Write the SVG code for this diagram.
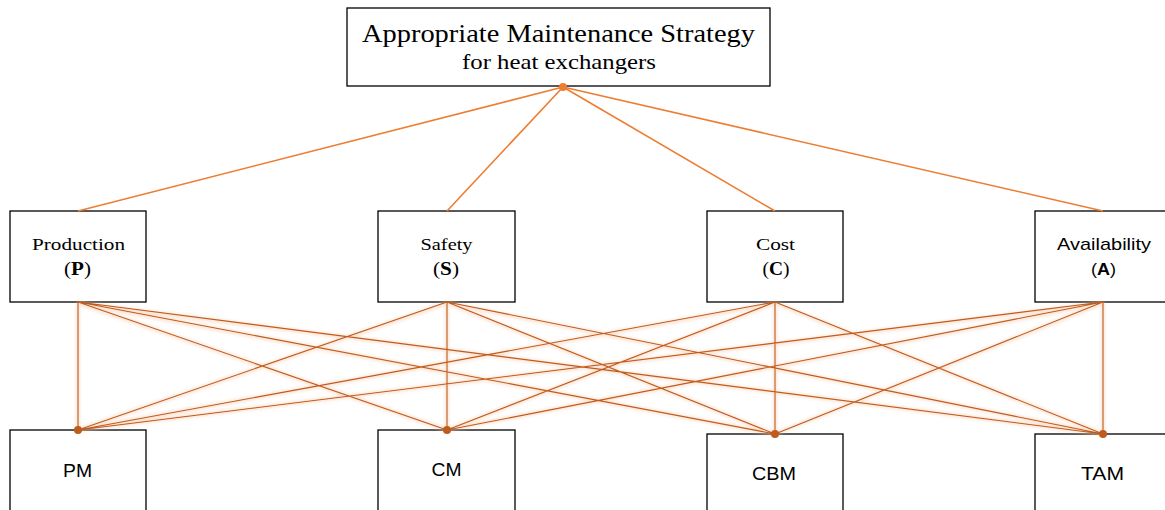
<svg xmlns="http://www.w3.org/2000/svg" width="1165" height="510" viewBox="0 0 1165 510">
<defs>
<style>
.box{fill:#fff;stroke:#000;stroke-width:1.3}
.serif{font-family:"Liberation Serif","Times New Roman",serif;fill:#000;text-anchor:middle}
.sans{font-family:"Liberation Sans",Arial,sans-serif;fill:#000;text-anchor:middle}
.top{stroke:#ED7D31;stroke-width:1.6;fill:none}
.low{stroke:#BF5B1C;stroke-width:1.1;fill:none}
.glow{stroke:#F8CBAD;stroke-width:4;fill:none;opacity:0.5}
.dot{fill:#BF5B1C}
</style>
<filter id="blur" x="-5%" y="-5%" width="110%" height="110%"><feGaussianBlur stdDeviation="1.5"/></filter>
</defs>
<rect width="1165" height="510" fill="#fff"/>
<g id="goal">
<rect class="box" x="347" y="8" width="423" height="78"/>
<text class="serif" x="558.5" y="42" font-size="26" textLength="393" lengthAdjust="spacingAndGlyphs">Appropriate Maintenance Strategy</text>
<text class="serif" x="559" y="69" font-size="21" textLength="194" lengthAdjust="spacingAndGlyphs">for heat exchangers</text>
</g>
<g id="production">
<rect class="box" x="10" y="211" width="136" height="91"/>
<text class="serif" x="78.5" y="250" font-size="17" textLength="93" lengthAdjust="spacingAndGlyphs">Production</text>
<text class="serif" x="77.5" y="275" font-size="18" textLength="27" lengthAdjust="spacingAndGlyphs">(<tspan font-weight="bold">P</tspan>)</text>
</g>
<g id="safety">
<rect class="box" x="378" y="211" width="137" height="91"/>
<text class="serif" x="446.5" y="250" font-size="17" textLength="52" lengthAdjust="spacingAndGlyphs">Safety</text>
<text class="serif" x="446" y="275" font-size="18" textLength="26" lengthAdjust="spacingAndGlyphs">(<tspan font-weight="bold">S</tspan>)</text>
</g>
<g id="cost">
<rect class="box" x="707" y="211" width="136" height="91"/>
<text class="serif" x="775.5" y="250" font-size="17" textLength="39" lengthAdjust="spacingAndGlyphs">Cost</text>
<text class="serif" x="776" y="275" font-size="18" textLength="27" lengthAdjust="spacingAndGlyphs">(<tspan font-weight="bold">C</tspan>)</text>
</g>
<g id="availability">
<rect class="box" x="1035" y="211" width="136" height="91"/>
<text class="sans" x="1104" y="250" font-size="17" textLength="94" lengthAdjust="spacingAndGlyphs">Availability</text>
<text class="sans" x="1103.5" y="275" font-size="17" textLength="25" lengthAdjust="spacingAndGlyphs">(<tspan font-weight="bold">A</tspan>)</text>
</g>
<g id="pm">
<rect class="box" x="10" y="430" width="136" height="90"/>
<text class="sans" x="77.5" y="477" font-size="18" textLength="29" lengthAdjust="spacingAndGlyphs">PM</text>
</g>
<g id="cm">
<rect class="box" x="378" y="430" width="137" height="90"/>
<text class="sans" x="446.5" y="476" font-size="18" textLength="30" lengthAdjust="spacingAndGlyphs">CM</text>
</g>
<g id="cbm">
<rect class="box" x="707" y="434" width="136" height="90"/>
<text class="sans" x="774" y="480" font-size="18" textLength="44" lengthAdjust="spacingAndGlyphs">CBM</text>
</g>
<g id="tam">
<rect class="box" x="1035" y="434" width="136" height="90"/>
<text class="sans" x="1102.5" y="480" font-size="18" textLength="43" lengthAdjust="spacingAndGlyphs">TAM</text>
</g>
<g id="connectors">
<g class="top">
<line x1="563" y1="87" x2="78" y2="211"/>
<line x1="563" y1="87" x2="447" y2="211"/>
<line x1="563" y1="87" x2="775" y2="211"/>
<line x1="563" y1="87" x2="1103" y2="211"/>
</g>
<g class="glow" filter="url(#blur)">
<path d="M78 303L78 430M78 303L447 430M78 303L775 434M78 303L1103 434M447 303L78 430M447 303L447 430M447 303L775 434M447 303L1103 434M775 303L78 430M775 303L447 430M775 303L775 434M775 303L1103 434M1103 303L78 430M1103 303L447 430M1103 303L775 434M1103 303L1103 434"/>
</g>
<g class="low">
<path d="M78 302L78 430M78 302L447 430M78 302L775 434M78 302L1103 434M447 302L78 430M447 302L447 430M447 302L775 434M447 302L1103 434M775 302L78 430M775 302L447 430M775 302L775 434M775 302L1103 434M1103 302L78 430M1103 302L447 430M1103 302L775 434M1103 302L1103 434"/>
</g>
<circle cx="563" cy="87" r="4" fill="#ED7D31"/>
<circle class="dot" cx="78" cy="430" r="4"/>
<circle class="dot" cx="447" cy="430" r="4"/>
<circle class="dot" cx="775" cy="434" r="4"/>
<circle class="dot" cx="1103" cy="434" r="4"/>
</g>
</svg>
